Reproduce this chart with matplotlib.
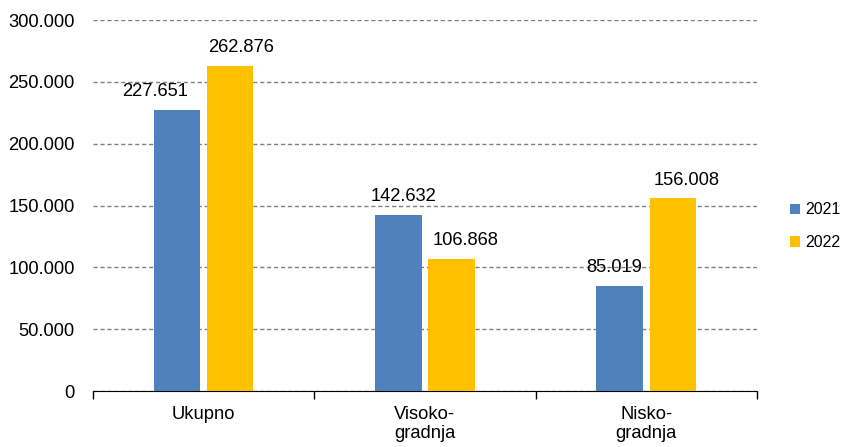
import numpy as np
import matplotlib.pyplot as plt
from matplotlib.ticker import FuncFormatter

plt.rcParams['font.family'] = ['Liberation Sans', 'DejaVu Sans']

categories = ['Ukupno', 'Visoko-\ngradnja', 'Nisko-\ngradnja']
years = ['2021', '2022']
values_2021 = [227651, 142632, 85019]
values_2022 = [262876, 106868, 156008]
colors = ['#4f81bd', '#ffc000']
# horizontal nudge of the data labels (points), as placed in the original
nudge_2021 = [-16, 4, -4]
nudge_2022 = [8, 10, 10]

fig = plt.figure(figsize=(8.43, 4.47), dpi=100)
ax = fig.add_axes([0.110, 0.125, 0.788, 0.830])

x = np.arange(len(categories))
w = 0.21
off = 0.12
for vals, sign, col, lab, nud in [(values_2021, -1, colors[0], years[0], nudge_2021),
                                  (values_2022, 1, colors[1], years[1], nudge_2022)]:
    bars = ax.bar(x + sign * off, vals, w, color=col, label=lab, zorder=3)
    for b, v, n in zip(bars, vals, nud):
        ax.annotate(f'{v:,}'.replace(',', '.'), (b.get_x() + b.get_width() / 2, v),
                    xytext=(n, 13), textcoords='offset points',
                    ha='center', va='center', fontsize=13.2)

ax.set_xlim(-0.5, 2.5)
ax.set_ylim(0, 300000)
ax.set_yticks(np.arange(0, 300001, 50000))
ax.yaxis.set_major_formatter(FuncFormatter(lambda v, p: f'{int(v):,}'.replace(',', '.')))
ax.yaxis.grid(True, linestyle=(0, (3, 2)), color='#808080', linewidth=1, zorder=0)
ax.tick_params(axis='y', length=0, labelsize=13.2, pad=13)

ax.set_xticks([-0.5, 0.5, 1.5, 2.5])
ax.set_xticklabels([])
ax.set_xticks(x, minor=True)
ax.set_xticklabels(categories, minor=True, fontsize=13.2, linespacing=1.15)
ax.tick_params(axis='x', which='major', direction='out', length=6, width=1)
ax.tick_params(axis='x', which='minor', length=0, pad=11)

for s in ['top', 'right', 'left']:
    ax.spines[s].set_visible(False)
ax.spines['bottom'].set_color('black')

ax.legend(loc='center left', bbox_to_anchor=(0.937, 0.494),
          bbox_transform=fig.transFigure, frameon=False, borderpad=0,
          borderaxespad=0, fontsize=11.5, handlelength=0.62, handleheight=0.62,
          labelspacing=1.1, handletextpad=0.37)

fig.savefig('out.png', dpi=100)
